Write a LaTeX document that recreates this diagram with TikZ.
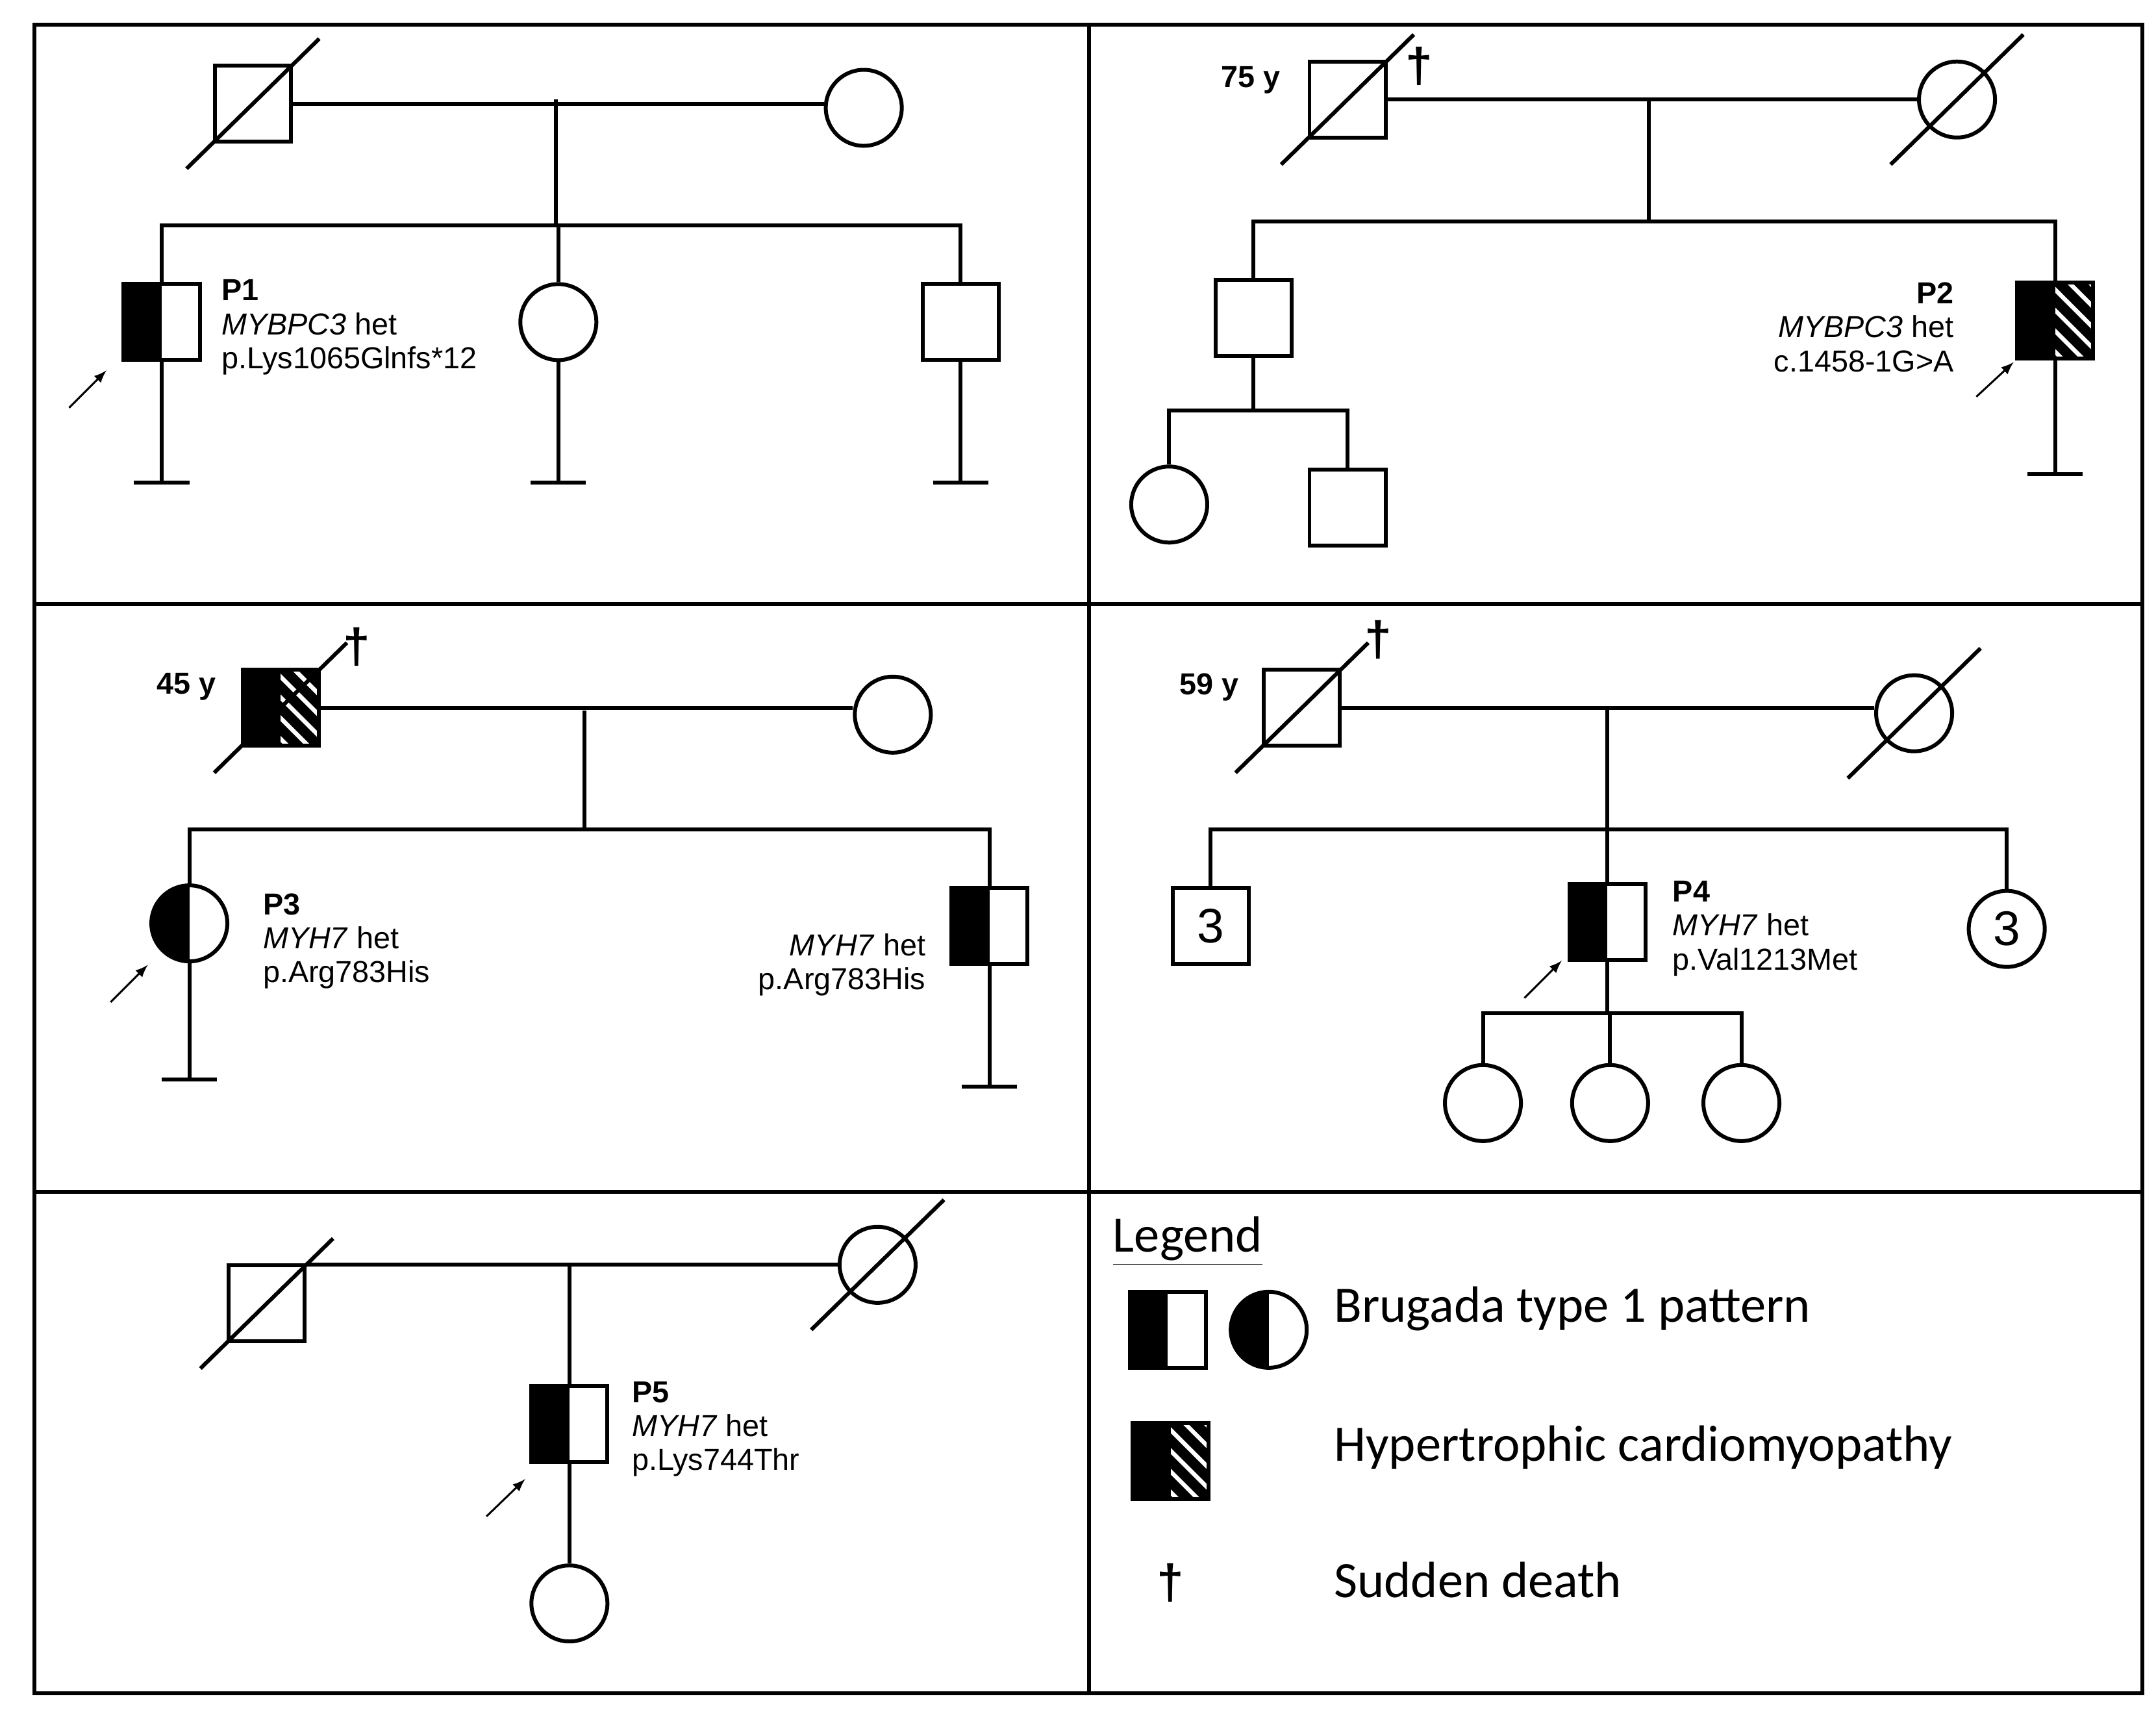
\documentclass[tikz,border=0pt]{standalone}
\usepackage{fontspec}
\setmainfont{Liberation Sans}
\newfontfamily\legendfont{Carlito}
\usetikzlibrary{calc}

\tikzset{
  ln/.style={line width=1.6pt},
  sq/.style={draw, ln, rectangle, minimum size=1.1cm, inner sep=0pt},
  ci/.style={draw, ln, circle, minimum size=1.1cm, inner sep=0pt},
  brug/.style={path picture={\fill (path picture bounding box.south west) rectangle (path picture bounding box.north);}},
  hcm/.style={path picture={
    \fill (path picture bounding box.south west) rectangle (path picture bounding box.north);
    \clip (path picture bounding box.south) rectangle (path picture bounding box.north east);
    \foreach \k in {-4,...,4}
      \draw[line width=4.2pt] ($(path picture bounding box.center)+(\k*0.3cm-0.6cm,0.6cm)$) -- ++(1.2cm,-1.2cm);}},
  lbl/.style={font=\fontsize{12.5}{14}\selectfont, align=left, anchor=north west, inner sep=0pt},
  age/.style={font=\bfseries\fontsize{12.5}{14}\selectfont},
  dg/.style={font=\bfseries\fontsize{20}{22}\selectfont},
  prob/.style={-latex, line width=0.8pt},
}
\newcommand{\dead}[1]{\draw[ln] ($(#1)+(-48,47)$) -- ($(#1)+(48,-47)$);}
\newcommand{\noissue}[2]{\draw[ln] (#1.south) -- ++(0,#2) coordinate (#1b); \draw[ln] ($(#1b)+(-20,0)$) -- ($(#1b)+(20,0)$);}

\begin{document}
\begin{tikzpicture}[x=0.02cm, y=-0.02cm]
\useasboundingbox (0,0) rectangle (1560,1241);
% frame
\draw[ln] (25,18) rectangle (1550,1225);
\draw[ln] (788,18) -- (788,1225);
\draw[ln] (25,437) -- (1550,437);
\draw[ln] (25,862) -- (1550,862);

% panel 1
\node[sq] (f1) at (183,75) {};
\node[ci] (m1) at (625,78) {};
\dead{f1}
\draw[ln] (f1.east) -- (m1.west |- f1.east) coordinate (mm1);
\coordinate (d1) at (402,72);
\coordinate (s1) at (402,163);
\node[sq, brug] (p1) at (117,233) {};
\node[ci] (c1b) at (404,233) {};
\node[sq] (c1c) at (695,233) {};
\draw[ln] (d1) -- (s1);
\draw[ln] (p1.north) -- (p1.north |- s1) -- (c1c.north |- s1) -- (c1c.north);
\draw[ln] (c1b.north |- s1) -- (c1b.north);
\noissue{p1}{87}
\noissue{c1b}{87}
\noissue{c1c}{87}
\node[lbl] at (160,202) {\textbf{P1}\\\textit{MYBPC3} het\\p.Lys1065Glnfs*12};
\draw[prob] (50,295) -- (77,268);

% panel 2
\node[sq] (f2) at (975,72) {};
\node[ci] (m2) at (1416,72) {};
\dead{f2}
\dead{m2}
\node[age] at (905,58) {75 y};
\node[dg] at (1027,48) {\textdagger};
\draw[ln] (f2.east) -- (m2.west);
\coordinate (s2) at (1193,160);
\draw[ln] (1193,72) -- (s2);
\node[sq] (c2a) at (907,230) {};
\node[sq, hcm] (p2) at (1487,232) {};
\draw[ln] (c2a.north) -- (c2a.north |- s2) -- (p2.north |- s2) -- (p2.north);
\node[ci] (g2a) at (846,365) {};
\node[sq] (g2b) at (975,367) {};
\draw[ln] (c2a.south) -- (907,297);
\draw[ln] (g2a.north) -- (846,297) -- (975,297) -- (g2b.north);
\noissue{p2}{82}
\node[lbl, anchor=north east, align=right] at (1414,204) {\textbf{P2}\\\textit{MYBPC3} het\\c.1458-1G>A};
\draw[prob] (1430,287) -- (1457,262);

% panel 3
\node[sq, hcm] (f3) at (203,512) {};
\node[ci] (m3) at (646,517) {};
\dead{f3}
\node[age] at (135,497) {45 y};
\node[dg] at (258,468) {\textdagger};
\draw[ln] (f3.east) -- (m3.west |- f3.east);
\coordinate (s3) at (423,600);
\draw[ln] (423,514) -- (s3);
\node[ci, brug] (p3) at (137,668) {};
\node[sq, brug] (c3b) at (716,670) {};
\draw[ln] (p3.north) -- (p3.north |- s3) -- (c3b.north |- s3) -- (c3b.north);
\noissue{p3}{84}
\noissue{c3b}{87}
\node[lbl] at (190,646) {\textbf{P3}\\\textit{MYH7} het\\p.Arg783His};
\node[lbl, anchor=north east, align=right] at (670,675) {\textit{MYH7} het\\p.Arg783His};
\draw[prob] (80,725) -- (107,698);

% panel 4
\node[sq] (f4) at (942,512) {};
\node[ci] (m4) at (1385,516) {};
\dead{f4}
\dead{m4}
\node[age] at (875,497) {59 y};
\node[dg] at (997,463) {\textdagger};
\draw[ln] (f4.east) -- (m4.west |- f4.east);
\coordinate (s4) at (1163,600);
\node[sq, font=\fontsize{20}{22}\selectfont] (c4a) at (876,670) {3};
\node[sq, brug] (p4) at (1163,667) {};
\node[ci, font=\fontsize{20}{22}\selectfont] (c4c) at (1452,672) {3};
\draw[ln] (1163,512) -- (p4.north);
\draw[ln] (c4a.north) -- (c4a.north |- s4) -- (c4c.north |- s4) -- (c4c.north);
\node[ci] (g4a) at (1073,798) {};
\node[ci] (g4b) at (1165,798) {};
\node[ci] (g4c) at (1260,798) {};
\draw[ln] (p4.south) -- (1163,733) coordinate (s4b);
\draw[ln] (g4a.north) -- (g4a.north |- s4b) -- (g4c.north |- s4b) -- (g4c.north);
\draw[ln] (g4b.north |- s4b) -- (g4b.north);
\node[lbl] at (1210,637) {\textbf{P4}\\\textit{MYH7} het\\p.Val1213Met};
\draw[prob] (1103,722) -- (1130,695);

% panel 5
\node[sq] (f5) at (193,943) {};
\node[ci] (m5) at (635,915) {};
\dead{f5}
\dead{m5}
\draw[ln] (f5.east |- m5.west) -- (m5.west);
\node[sq, brug] (p5) at (412,1030) {};
\node[ci] (g5) at (412,1160) {};
\draw[ln] (p5.north |- m5.west) -- (p5.north);
\draw[ln] (p5.south) -- (g5.north);
\node[lbl] at (457,999) {\textbf{P5}\\\textit{MYH7} het\\p.Lys744Thr};
\draw[prob] (352,1097) -- (380,1070);

% legend
\begin{scope}[every node/.append style={font=\legendfont\fontsize{21}{24}\selectfont, anchor=west, inner sep=0pt}]
\node (lg) at (805,898) {\underline{Legend}};
\node[sq, brug, anchor=center] (lb1) at (845,962) {};
\node[ci, brug, anchor=center] (lb2) at (918,962) {};
\node at (965,947) {Brugada type 1 pattern};
\node[sq, hcm, anchor=center] (lh) at (847,1057) {};
\node at (965,1047) {Hypertrophic cardiomyopathy};
\node[anchor=center, font=\bfseries\fontsize{20}{22}\selectfont] (ld) at (847,1145) {\textdagger};
\node at (965,1143) {Sudden death};
\end{scope}
\end{tikzpicture}
\end{document}
